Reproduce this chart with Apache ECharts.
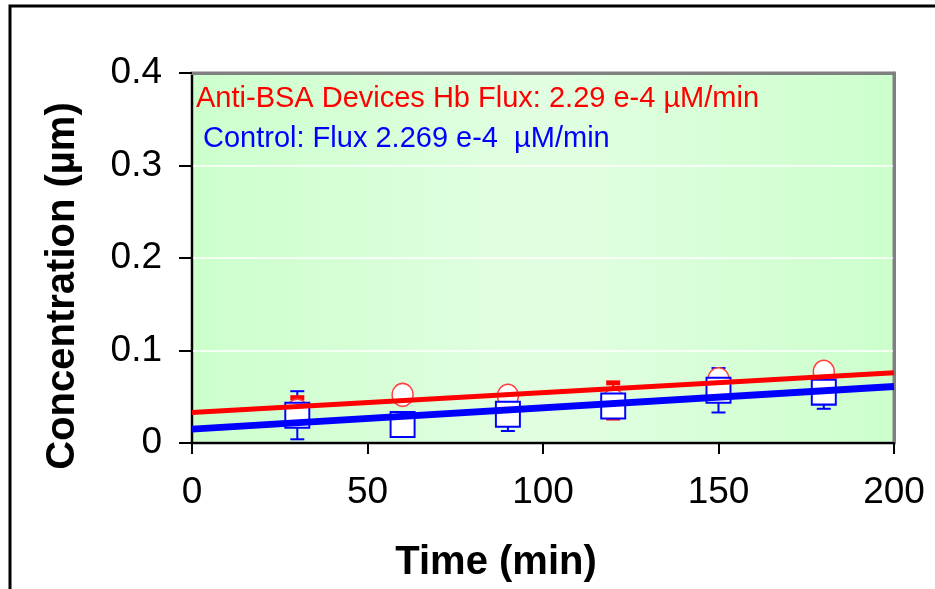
<!DOCTYPE html>
<html><head><meta charset="utf-8">
<script src="https://cdn.jsdelivr.net/npm/echarts@6/dist/echarts.min.js"></script>
<style>html,body{margin:0;padding:0;background:#fff}#c{width:935px;height:589px}</style>
</head><body><div id="c"></div>
<script>
// ---- data ----
const times = [30, 60, 90, 120, 150, 180];
const antiBsa = [0.035, 0.052, 0.051, 0.046, 0.069, 0.077];
const antiBsaErr = [0.014, 0, 0, 0.019, 0, 0];
const control = [0.030, 0.020, 0.031, 0.040, 0.057, 0.055];
const controlErr = [0.026, 0, 0.018, 0, 0.024, 0.018];
const antiBsaFit = [[0, 0.033], [200, 0.076]];
const controlFit = [[0, 0.015], [200, 0.061]];
const xTicks = [0, 50, 100, 150, 200];
const yTicks = [0, 0.1, 0.2, 0.3, 0.4];
const redLabel = 'Anti-BSA Devices Hb Flux: 2.29 e-4 \u00b5M/min';
const blueLabel = 'Control: Flux 2.269 e-4  \u00b5M/min';
const xTitle = 'Time (min)';
const yTitle = 'Concentration (\u00b5m)';

const FONT = '"Liberation Sans", Arial, sans-serif';
const chart = echarts.init(document.getElementById('c'), null, {renderer: 'canvas'});

function errData(xs, ys, es) { return xs.map((x, i) => [x, ys[i], es[i]]); }
function errRender(color, capW, capLw) {
  return function (params, api) {
    const e = api.value(2);
    if (!e) return null;
    const x = api.value(0), y = api.value(1);
    const top = api.coord([x, y + e]);
    const bot = api.coord([x, y - e]);
    const st = {stroke: color, lineWidth: 2};
    const cst = {stroke: color, lineWidth: capLw};
    return {type: 'group', children: [
      {type: 'line', shape: {x1: top[0], y1: top[1], x2: bot[0], y2: bot[1]}, style: st},
      {type: 'line', shape: {x1: top[0] - capW / 2, y1: top[1], x2: top[0] + capW / 2, y2: top[1]}, style: cst},
      {type: 'line', shape: {x1: bot[0] - capW / 2, y1: bot[1], x2: bot[0] + capW / 2, y2: bot[1]}, style: cst}
    ]};
  };
}

const option = {
  animation: false,
  backgroundColor: '#fff',
  grid: {
    left: 192, right: 41, top: 73, bottom: 146, show: true,
    backgroundColor: {type: 'linear', x: 0, y: 0, x2: 1, y2: 0,
      colorStops: [{offset: 0, color: '#ccffcc'}, {offset: 0.5, color: '#e2fee2'}, {offset: 1, color: '#ccffcc'}]},
    borderColor: '#808080', borderWidth: 3
  },
  xAxis: [{
    type: 'value', min: xTicks[0], max: xTicks[xTicks.length - 1], interval: 50,
    axisLine: {show: true, onZero: false, lineStyle: {color: '#000', width: 2}},
    axisTick: {show: true, inside: false, length: 11, lineStyle: {color: '#000', width: 2}},
    axisLabel: {margin: 31, fontSize: 37, fontFamily: FONT, color: '#000'},
    splitLine: {show: false}
  }, {
    type: 'value', position: 'top', min: 0, max: 200,
    axisLine: {show: true, onZero: false, lineStyle: {color: '#808080', width: 3}},
    axisTick: {show: false}, axisLabel: {show: false}, splitLine: {show: false}
  }],
  yAxis: [{
    type: 'value', min: yTicks[0], max: yTicks[yTicks.length - 1], interval: 0.1,
    axisLine: {show: true, onZero: false, lineStyle: {color: '#000', width: 2}},
    axisTick: {show: true, inside: false, length: 13, lineStyle: {color: '#000', width: 2}},
    axisLabel: {margin: 30, fontSize: 37, fontFamily: FONT, color: '#000',
      formatter: v => String(Math.round(v * 10) / 10)},
    splitLine: {show: true, lineStyle: {color: '#ffffff', width: 1.5}}
  }, {
    type: 'value', position: 'right', min: 0, max: 0.4,
    axisLine: {show: true, onZero: false, lineStyle: {color: '#808080', width: 3}},
    axisTick: {show: false}, axisLabel: {show: false}, splitLine: {show: false}
  }],
  series: [
    {type: 'custom', name: 'ctrlErr', renderItem: errRender('#0000ff', 14, 2),
      data: errData(times, control, controlErr), encode: {x: 0, y: [1, 2]}, z: 2, clip: true},
    {type: 'custom', name: 'antiErr', renderItem: errRender('#ff0000', 14, 5),
      data: errData(times, antiBsa, antiBsaErr), encode: {x: 0, y: [1, 2]}, z: 3, clip: true},
    {type: 'scatter', name: 'Anti-BSA', data: times.map((t, i) => [t, antiBsa[i]]),
      symbol: 'circle', symbolSize: [21, 23], z: 4,
      itemStyle: {color: '#ffffff', borderColor: '#ff4040', borderWidth: 1.5, opacity: 1}},
    {type: 'scatter', name: 'Control', data: times.map((t, i) => [t, control[i]]),
      symbol: 'rect', symbolSize: [24, 25], z: 5,
      itemStyle: {color: '#ffffff', borderColor: '#0000ff', borderWidth: 2, opacity: 1}},
    {type: 'line', name: 'antiFit', data: antiBsaFit, showSymbol: false, symbol: 'none', z: 6,
      lineStyle: {color: '#ff0000', width: 5}},
    {type: 'line', name: 'ctrlFit', data: controlFit, showSymbol: false, symbol: 'none', z: 6,
      lineStyle: {color: '#0000ff', width: 7}}
  ],
  graphic: [
    {type: 'rect', shape: {x: 10, y: 6, width: 1200, height: 1200}, silent: true, z: 100,
      style: {fill: 'none', stroke: '#000', lineWidth: 3}},
    {type: 'text', x: 196, y: 99, z: 100, style: {text: redLabel, fill: '#ff0000',
      font: '29px ' + FONT, textAlign: 'left', textVerticalAlign: 'middle'}},
    {type: 'text', x: 203, y: 139, z: 100, style: {text: blueLabel, fill: '#0000ff',
      font: '29px ' + FONT, textAlign: 'left', textVerticalAlign: 'middle'}},
    {type: 'text', x: 496, y: 563, z: 100, style: {text: xTitle, fill: '#000',
      font: 'bold 40px ' + FONT, textAlign: 'center', textVerticalAlign: 'middle'}},
    {type: 'text', x: 63, y: 286, rotation: Math.PI / 2, z: 100, style: {text: yTitle, fill: '#000',
      font: 'bold 40px ' + FONT, textAlign: 'center', textVerticalAlign: 'middle'}}
  ]
};
chart.setOption(option);
</script></body></html>
